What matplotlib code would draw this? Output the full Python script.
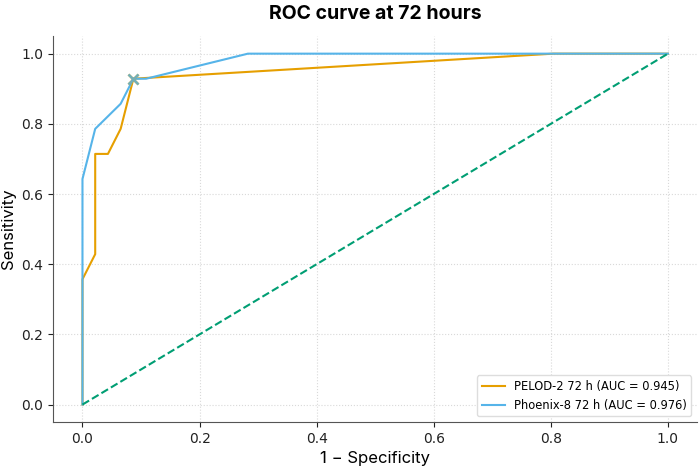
import matplotlib.pyplot as plt
import numpy as np

# ROC points (46 negatives, 14 positives)
pelod_fpr = [0, 0, 1/46, 1/46, 2/46, 3/46, 4/46, 37/46, 1.0]
pelod_tpr = [0, 5/14, 6/14, 10/14, 10/14, 11/14, 13/14, 1.0, 1.0]
phoenix_fpr = [0, 0, 1/46, 3/46, 4/46, 5/46, 13/46, 1.0]
phoenix_tpr = [0, 9/14, 11/14, 12/14, 13/14, 13/14, 1.0, 1.0]
cut_fpr = 4/46
cut_tpr = 13/14
labels = ['PELOD-2 72 h (AUC = 0.945)', 'Phoenix-8 72 h (AUC = 0.976)']

fig = plt.figure(figsize=(7, 4.69), dpi=100)
ax = fig.add_axes([0.076, 0.100, 0.92, 0.823])

ax.plot(pelod_fpr, pelod_tpr, color='#E69F00', lw=1.5, label=labels[0])
ax.plot(phoenix_fpr, phoenix_tpr, color='#56B4E9', lw=1.5, label=labels[1])
ax.plot([0, 1], [0, 1], color='#009E73', lw=1.5, ls='--')
ax.plot(cut_fpr, cut_tpr, 'x', color='#E69F00', ms=7, mew=1.8)
ax.plot(cut_fpr, cut_tpr, 'x', color='#56B4E9', ms=7, mew=1.8, alpha=0.8)

ax.set_xlim(-0.05, 1.05)
ax.set_ylim(-0.05, 1.05)
ax.set_xticks(np.arange(0, 1.01, 0.2))
ax.set_yticks(np.arange(0, 1.01, 0.2))
ax.grid(True, ls=':', color='#d9d9d9', lw=0.8)
for s in ['top', 'right']:
    ax.spines[s].set_visible(False)
for s in ['left', 'bottom']:
    ax.spines[s].set_color('#555555')
ax.tick_params(labelsize=10, colors='#222222')

ax.set_title('ROC curve at 72 hours', fontsize=14, fontweight='bold', family='Inter', pad=12)
ax.set_xlabel('1 − Specificity', fontsize=12, family='Inter')
ax.set_ylabel('Sensitivity', fontsize=12, family='Inter')
ax.legend(loc='lower right', fontsize=8.3, framealpha=1, edgecolor='#dddddd')

fig.savefig('out.png', dpi=100)
